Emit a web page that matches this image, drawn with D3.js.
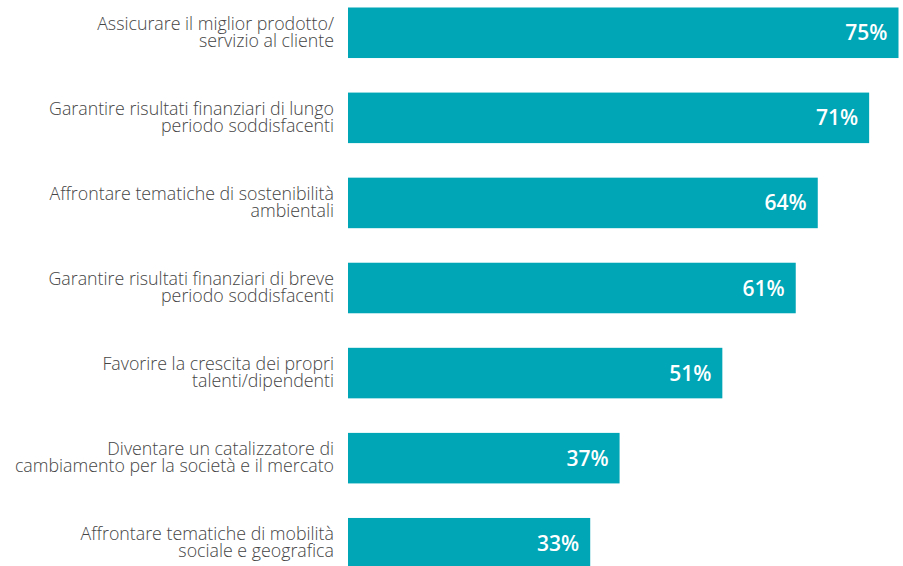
<!DOCTYPE html>
<html>
<head>
<meta charset="utf-8">
<script src="https://cdn.jsdelivr.net/npm/d3@7/dist/d3.min.js"></script>
<style>
  html, body { margin: 0; padding: 0; background: #fff; }
  svg { display: block; }
</style>
</head>
<body>
<script>
// Priorità indicate dagli intervistati (%)
const categories = [
  ["Assicurare il miglior prodotto/", "servizio al cliente"],
  ["Garantire risultati finanziari di lungo", "periodo soddisfacenti"],
  ["Affrontare tematiche di sostenibilità", "ambientali"],
  ["Garantire risultati finanziari di breve", "periodo soddisfacenti"],
  ["Favorire la crescita dei propri", "talenti/dipendenti"],
  ["Diventare un catalizzatore di", "cambiamento per la società e il mercato"],
  ["Affrontare tematiche di mobilità", "sociale e geografica"]
];
const values = [75, 71, 64, 61, 51, 37, 33];

const width = 903, height = 566;
const barColor = "#00a5b6";
const textColor = "#454545";

const svg = d3.select("body").append("svg")
  .attr("width", width)
  .attr("height", height);

const keys = categories.map((c, i) => i);

const x = d3.scaleLinear().domain([0, 100]).range([348, 348 + 734]);
const y = d3.scaleBand()
  .domain(keys)
  .range([7.5, 568.5])
  .paddingInner(0.406)
  .paddingOuter(0);

const rows = svg.selectAll("g.row")
  .data(keys)
  .join("g")
  .attr("class", "row");

rows.append("rect")
  .attr("x", x(0))
  .attr("y", i => y(i))
  .attr("width", i => x(values[i]) - x(0))
  .attr("height", y.bandwidth())
  .attr("fill", barColor);

rows.append("text")
  .attr("x", i => x(values[i]) - 11)
  .attr("y", i => y(i) + y.bandwidth() / 2 + 7.5)
  .attr("text-anchor", "end")
  .attr("fill", "#fff")
  .style("font-family", "'Open Sans', sans-serif")
  .style("font-weight", 600)
  .style("font-size", "21px")
  .text(i => values[i] + "%");

const labels = rows.append("text")
  .attr("text-anchor", "end")
  .attr("fill", textColor)
  .style("font-family", "'Open Sans', sans-serif")
  .style("font-weight", 300)
  .style("font-size", "17.8px");

labels.selectAll("tspan")
  .data(i => categories[i].map(line => ({ line, i })))
  .join("tspan")
  .attr("x", 334)
  .attr("y", (d, j) => y(d.i) + y.bandwidth() / 2 - 3 + j * 17)
  .text(d => d.line);
</script>
</body>
</html>
